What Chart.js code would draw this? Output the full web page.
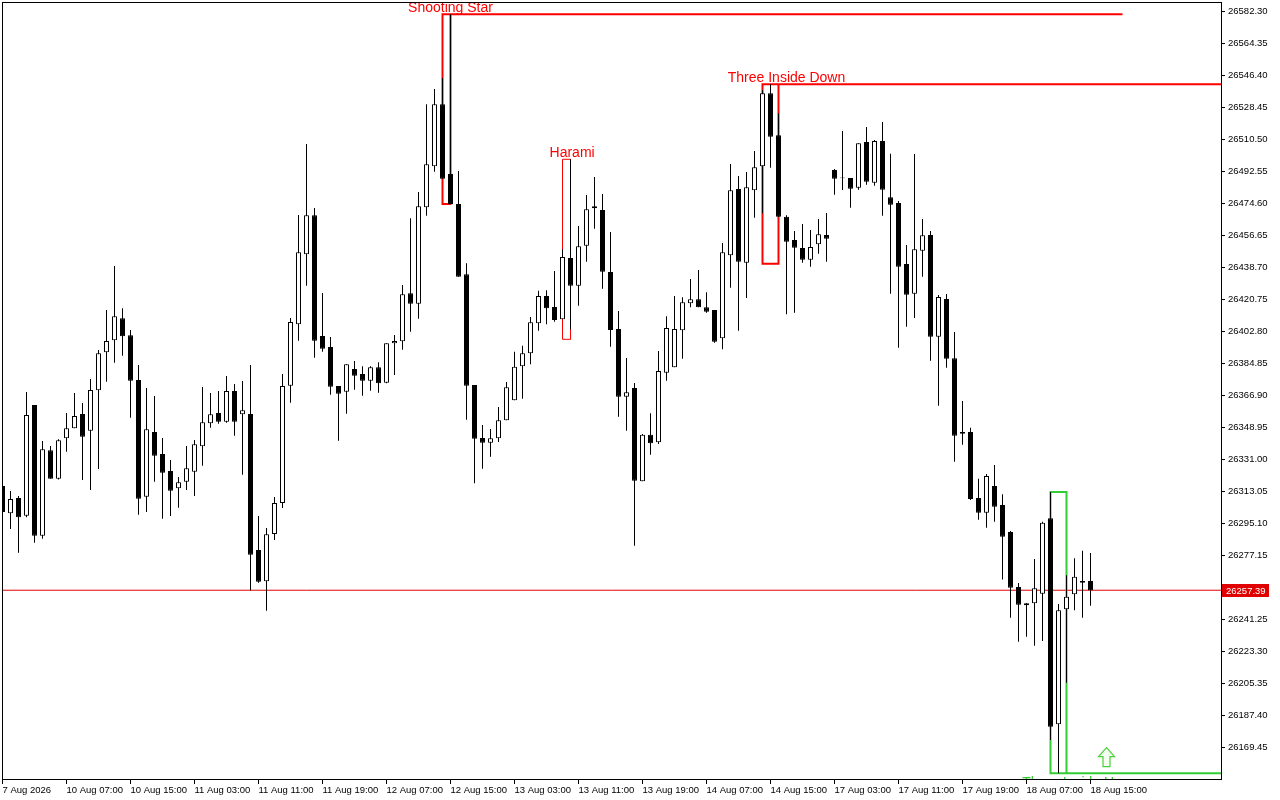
<!DOCTYPE html>
<html>
<head>
<meta charset="utf-8">
<script src="https://cdn.jsdelivr.net/npm/chart.js@4.4.1/dist/chart.umd.min.js"></script>
<style>
  html, body { margin: 0; padding: 0; background: #fff; }
  #wrap { width: 1280px; height: 800px; }
</style>
</head>
<body>
<div id="wrap"><canvas id="chart" width="1280" height="800"></canvas></div>
<script>
// hourly bars, one time label every 8 bars
const timeLabels = ['7 Aug 2026', '10 Aug 07:00', '10 Aug 15:00', '11 Aug 03:00', '11 Aug 11:00', '11 Aug 19:00',
    '12 Aug 07:00', '12 Aug 15:00', '13 Aug 03:00', '13 Aug 11:00', '13 Aug 19:00', '14 Aug 07:00',
    '14 Aug 15:00', '17 Aug 03:00', '17 Aug 11:00', '17 Aug 19:00', '18 Aug 07:00', '18 Aug 15:00'];
const labelStep = 8;

const priceTicks = [26169.45, 26187.40, 26205.35, 26223.30, 26241.25, 26259.20, 26277.15, 26295.10,
    26313.05, 26331.00, 26348.95, 26366.90, 26384.85, 26402.80, 26420.75, 26438.70, 26456.65,
    26474.60, 26492.55, 26510.50, 26528.45, 26546.40, 26564.35, 26582.30];
const lastPrice = 26257.39;

const opens = [
    26315.85, 26300.54, 26309.12, 26299.19, 26361.29, 26287.97, 26335.88, 26319.95, 26342.61, 26348.22,
    26356.24, 26346.87, 26369.54, 26390.85, 26397.58, 26409.92, 26400.39, 26375.31, 26309.85, 26346.14,
    26333.80, 26324.27, 26314.56, 26318.27, 26323.87, 26338.12, 26351.02, 26356.80, 26351.92, 26369.14,
    26356.07, 26356.24, 26279.95, 26262.40, 26288.93, 26306.32, 26372.12, 26406.56, 26445.82, 26467.70,
    26399.99, 26393.82, 26371.95, 26368.75, 26381.48, 26378.68, 26374.92, 26382.44, 26373.80, 26395.90,
    26397.02, 26423.95, 26418.11, 26472.19, 26495.19, 26529.96, 26490.87, 26474.04, 26434.60, 26372.51,
    26342.78, 26340.14, 26342.61, 26352.71, 26363.93, 26383.00, 26390.29, 26407.12, 26422.43, 26416.26,
    26409.36, 26443.75, 26428.21, 26450.65, 26471.63, 26470.67, 26435.89, 26403.92, 26365.95, 26370.83,
    26318.49, 26344.63, 26340.37, 26379.41, 26382.44, 26403.19, 26418.34, 26420.58, 26416.09, 26414.58,
    26398.70, 26445.26, 26482.45, 26441.11, 26481.72, 26495.19, 26536.13, 26512.57, 26466.91, 26453.84,
    26449.36, 26442.79, 26451.43, 26456.65, 26493.11, 26488.90, 26488.62, 26483.18, 26508.82, 26485.99,
    26509.38, 26477.80, 26474.60, 26440.38, 26423.72, 26447.84, 26456.65, 26399.60, 26420.75, 26387.49,
    26346.14, 26346.14, 26309.12, 26300.88, 26315.85, 26305.20, 26290.05, 26259.20, 26248.93, 26250.06,
    26255.44, 26297.73, 26182.18, 26246.69, 26255.10, 26262.56, 26262.56];
const highs = [
    26317.54, 26313.05, 26310.24, 26368.58, 26361.29, 26341.10, 26338.29, 26342.05, 26356.80, 26368.02,
    26362.41, 26375.87, 26392.14, 26414.58, 26439.26, 26415.53, 26403.36, 26383.73, 26370.83, 26366.34,
    26342.78, 26330.44, 26320.90, 26338.29, 26341.66, 26371.39, 26368.02, 26369.14, 26377.56, 26373.07,
    26374.75, 26383.73, 26299.02, 26292.29, 26309.68, 26378.68, 26410.09, 26467.87, 26507.69, 26471.79,
    26424.11, 26399.43, 26371.95, 26384.12, 26385.97, 26383.00, 26383.00, 26385.24, 26395.90, 26400.56,
    26428.60, 26466.02, 26480.77, 26529.96, 26538.55, 26544.72, 26580.45, 26492.55, 26440.77, 26372.51,
    26350.07, 26347.83, 26360.17, 26374.19, 26391.19, 26394.55, 26410.65, 26425.41, 26425.63, 26436.46,
    26448.63, 26499.11, 26461.70, 26479.09, 26489.18, 26479.65, 26458.33, 26414.02, 26387.65, 26373.63,
    26345.02, 26356.63, 26391.58, 26411.04, 26422.43, 26421.70, 26431.97, 26437.02, 26424.51, 26414.58,
    26452.16, 26496.48, 26489.74, 26491.99, 26503.77, 26537.99, 26541.18, 26524.92, 26467.70, 26458.89,
    26462.82, 26459.45, 26465.62, 26468.99, 26493.67, 26514.99, 26488.62, 26508.09, 26517.23, 26509.94,
    26520.04, 26502.25, 26475.72, 26451.04, 26502.09, 26465.62, 26458.89, 26422.99, 26423.55, 26402.24,
    26363.53, 26348.56, 26319.95, 26322.58, 26327.63, 26311.20, 26290.61, 26261.44, 26250.22, 26274.90,
    26295.83, 26312.49, 26249.66, 26265.76, 26275.30, 26279.56, 26278.27];
const lows = [
    26300.15, 26291.73, 26278.44, 26298.30, 26284.05, 26286.29, 26319.95, 26319.50, 26335.09, 26348.22,
    26319.22, 26313.61, 26325.39, 26374.36, 26385.02, 26388.94, 26354.17, 26299.75, 26301.27, 26318.27,
    26297.51, 26299.02, 26303.68, 26313.61, 26310.24, 26327.24, 26348.56, 26350.80, 26351.36, 26344.07,
    26322.19, 26257.35, 26261.61, 26245.90, 26285.56, 26303.51, 26362.58, 26397.36, 26428.21, 26387.82,
    26391.19, 26367.07, 26341.26, 26356.41, 26369.87, 26366.51, 26369.31, 26368.19, 26373.46, 26378.12,
    26392.31, 26402.41, 26409.70, 26467.48, 26492.16, 26488.23, 26474.04, 26433.26, 26353.04, 26317.37,
    26325.56, 26332.29, 26340.53, 26352.71, 26363.93, 26364.82, 26384.12, 26402.97, 26406.56, 26408.02,
    26409.36, 26403.75, 26416.99, 26441.67, 26460.18, 26426.53, 26393.99, 26354.73, 26346.87, 26282.37,
    26318.49, 26333.41, 26339.41, 26374.92, 26382.44, 26387.26, 26416.09, 26416.09, 26413.06, 26396.24,
    26392.53, 26427.09, 26402.97, 26421.31, 26466.35, 26468.82, 26494.40, 26466.91, 26412.17, 26413.06,
    26441.11, 26438.87, 26446.16, 26441.67, 26479.25, 26481.89, 26471.96, 26482.06, 26484.86, 26484.30,
    26467.48, 26423.72, 26393.43, 26405.21, 26410.09, 26433.26, 26386.14, 26360.90, 26382.21, 26329.48,
    26339.02, 26308.00, 26296.95, 26292.46, 26295.83, 26263.41, 26241.98, 26228.52, 26231.32, 26226.27,
    26228.91, 26173.37, 26154.70, 26205.52, 26246.13, 26241.98, 26248.71];
const closes = [
    26301.27, 26308.56, 26298.30, 26355.68, 26287.97, 26336.44, 26319.95, 26341.49, 26348.22, 26355.12,
    26343.51, 26369.70, 26390.29, 26397.19, 26411.04, 26399.83, 26374.92, 26308.73, 26347.66, 26332.85,
    26323.31, 26313.22, 26317.93, 26325.78, 26339.24, 26351.59, 26356.07, 26351.92, 26369.14, 26351.92,
    26358.32, 26277.32, 26262.17, 26288.76, 26306.32, 26371.95, 26407.85, 26446.95, 26467.70, 26397.36,
    26392.87, 26371.55, 26367.63, 26384.12, 26377.72, 26374.92, 26382.44, 26373.46, 26395.90, 26397.19,
    26423.39, 26418.11, 26472.75, 26496.31, 26529.96, 26488.23, 26474.04, 26433.26, 26372.12, 26342.39,
    26340.14, 26342.61, 26352.71, 26371.22, 26382.77, 26390.29, 26407.68, 26422.43, 26415.53, 26408.97,
    26444.31, 26428.21, 26450.31, 26471.07, 26472.75, 26436.06, 26403.36, 26365.95, 26368.41, 26318.83,
    26344.63, 26339.81, 26380.36, 26404.48, 26403.92, 26418.90, 26420.58, 26416.09, 26413.63, 26396.80,
    26446.95, 26481.72, 26441.67, 26483.41, 26494.62, 26536.13, 26511.79, 26466.91, 26452.89, 26449.53,
    26442.79, 26449.92, 26457.04, 26454.57, 26488.23, 26488.45, 26482.62, 26508.09, 26486.55, 26509.38,
    26482.06, 26473.65, 26438.87, 26423.16, 26448.63, 26456.48, 26399.60, 26421.87, 26387.26, 26344.07,
    26345.19, 26308.56, 26300.88, 26321.46, 26304.24, 26287.41, 26258.81, 26249.27, 26250.06, 26258.52,
    26295.27, 26180.83, 26246.13, 26253.76, 26264.98, 26261.61, 26257.39];

// candle pattern marks
const patternNames = ['Shooting Star', 'Harami', 'Three Inside Down', 'Three Inside Up'];
const patternFrom = [55, 70, 95, 131];
const patternTo = [56, 71, 97, 133];
const patternHigh = [26580.45, 26499.11, 26541.18, 26312.49];
const patternLow = [26474.04, 26398.14, 26440.55, 26154.70];
const patternLineSide = ['high', null, 'high', 'low'];
const patternLineTo = [140, null, 160, 160];
const patternLabelX = [56.0, 71.2, 98.0, 133.7];
const patternColors = ['#ff0000', '#ff0000', '#ff0000', '#32cd32'];
const patternWidths = [2, 1, 2, 2];
const arrowBar = 138;
const arrowPrice = 26163.8;

const FONT = '"Liberation Sans", Arial, sans-serif';
const idx = opens.map((_, i) => i);

const patternSets = patternNames.map((name, k) => {
    const a = patternFrom[k], b = patternTo[k], hi = patternHigh[k], lo = patternLow[k];
    let pts;
    if (patternLineSide[k] === 'high') pts = [[patternLineTo[k], hi], [a, hi], [a, lo], [b, lo], [b, hi]];
    else if (patternLineSide[k] === 'low') pts = [[patternLineTo[k], lo], [a, lo], [a, hi], [b, hi], [b, lo]];
    else pts = [[a, lo], [a, hi], [b, hi], [b, lo], [a, lo]];
    return {
        type: 'line', label: name,
        data: pts.map(p => ({ x: p[0], y: p[1] })),
        borderColor: patternColors[k], borderWidth: patternWidths[k],
        pointRadius: 0, fill: false, tension: 0, clip: 0, order: 2,
    };
});

const overlay = {
    id: 'mtOverlay',
    afterDatasetsDraw(chart) {
        const { ctx, chartArea: a, scales: { x, y } } = chart;
        ctx.save();
        ctx.beginPath();
        ctx.rect(a.left, a.top, a.right - a.left, a.bottom - a.top);
        ctx.clip();

        ctx.font = '14px ' + FONT;
        ctx.textAlign = 'center';
        patternNames.forEach((name, k) => {
            ctx.fillStyle = patternColors[k];
            const px = x.getPixelForValue(patternLabelX[k]);
            if (patternLineSide[k] === 'low') {
                ctx.textBaseline = 'top';
                ctx.fillText(name, px, y.getPixelForValue(patternLow[k]) + 3);
            } else {
                ctx.textBaseline = 'alphabetic';
                ctx.fillText(name, px, y.getPixelForValue(patternHigh[k]) - 2);
            }
        });

        // hollow up arrow
        const ax = x.getPixelForValue(arrowBar), ay = y.getPixelForValue(arrowPrice);
        const top = ay - 9.5, bot = ay + 9.5;
        ctx.beginPath();
        ctx.moveTo(ax, top);
        ctx.lineTo(ax + 8, top + 9);
        ctx.lineTo(ax + 3.5, top + 9);
        ctx.lineTo(ax + 3.5, bot);
        ctx.lineTo(ax - 3.5, bot);
        ctx.lineTo(ax - 3.5, top + 9);
        ctx.lineTo(ax - 8, top + 9);
        ctx.closePath();
        ctx.fillStyle = '#f4fff0';
        ctx.fill();
        ctx.strokeStyle = '#4ccf3c';
        ctx.lineWidth = 1.2;
        ctx.stroke();
        ctx.restore();

        ctx.save();
        ctx.strokeStyle = '#000';
        ctx.lineWidth = 1;
        ctx.strokeRect(a.left + 0.5, a.top + 0.5, a.right - a.left, a.bottom - a.top);
        ctx.restore();
    },
    afterDraw(chart) {
        const { ctx, chartArea: a, scales: { y } } = chart;
        const py = Math.round(y.getPixelForValue(lastPrice));
        ctx.save();
        ctx.fillStyle = '#e00000';
        ctx.fillRect(a.right + 1, py - 6, 47, 13);
        ctx.fillStyle = '#fff';
        ctx.font = '9.5px ' + FONT;
        ctx.textAlign = 'left';
        ctx.textBaseline = 'middle';
        ctx.fillText(lastPrice.toFixed(2), a.right + 5, py + 1);
        ctx.restore();
    },
};

new Chart(document.getElementById('chart'), {
    type: 'bar',
    data: {
        datasets: [
            {
                label: 'body',
                data: idx.map(i => ({ x: i, y: [opens[i], closes[i]] })),
                backgroundColor: idx.map(i => closes[i] < opens[i] ? '#000' : '#fff'),
                borderColor: '#000', borderWidth: 1, borderSkipped: false,
                barThickness: 5, grouped: false, inflateAmount: 0, clip: 0, order: 0,
            },
            {
                label: 'wick',
                data: idx.map(i => ({ x: i, y: [lows[i], highs[i]] })),
                backgroundColor: '#000', borderWidth: 0,
                barThickness: 1, grouped: false, inflateAmount: 0, clip: 0, order: 1,
            },
            ...patternSets,
            {
                type: 'line', label: 'price',
                data: [{ x: -1, y: lastPrice }, { x: 160, y: lastPrice }],
                borderColor: '#e00000', borderWidth: 1, pointRadius: 0, fill: false, clip: 0, order: 3,
            },
        ],
    },
    options: {
        responsive: false,
        devicePixelRatio: 1,
        animation: false,
        events: [],
        layout: { padding: { left: 2, top: 2, right: 0, bottom: 0 } },
        plugins: { legend: { display: false }, tooltip: { enabled: false } },
        scales: {
            x: {
                type: 'linear', min: -0.0625, max: 152.3125, bounds: 'data', offset: false,
                afterBuildTicks: s => { s.ticks = timeLabels.map((_, k) => ({ value: k * labelStep })); },
                afterFit: s => { s.height = 21; s.paddingLeft = 0; s.paddingRight = 0; },
                grid: { drawOnChartArea: false, tickLength: 5, color: '#000', offset: false },
                border: { display: false },
                ticks: {
                    autoSkip: false, maxRotation: 0, minRotation: 0, align: 'start', padding: 1,
                    color: '#000', font: { family: FONT, size: 9.5 },
                    callback: v => timeLabels[Math.round(v / labelStep)],
                },
            },
            y: {
                type: 'linear', position: 'right', min: 26151.50, max: 26587.35, bounds: 'data',
                afterBuildTicks: s => { s.ticks = priceTicks.map(v => ({ value: v })); },
                afterFit: s => { s.width = 59; s.paddingTop = 0; s.paddingBottom = 0; },
                grid: { drawOnChartArea: false, tickLength: 4, color: '#000' },
                border: { display: false },
                ticks: { padding: 3, color: '#000', font: { family: FONT, size: 9.5 }, callback: v => v.toFixed(2) },
            },
        },
    },
    plugins: [overlay],
});
</script>
</body>
</html>
